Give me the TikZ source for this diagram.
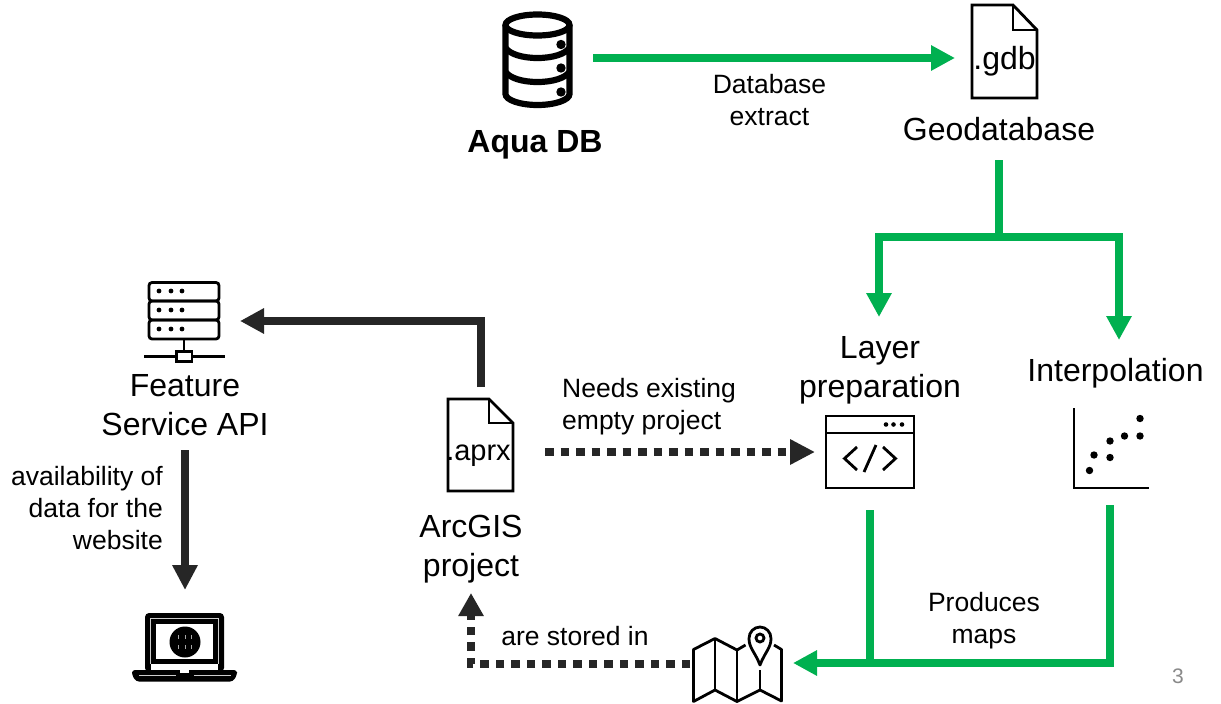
\documentclass[tikz,border=0pt]{standalone}
\usepackage{fontspec}
\setmainfont{Liberation Sans}
\usetikzlibrary{arrows.meta}
\definecolor{grn}{HTML}{00B050}
\definecolor{drk}{HTML}{262626}
\definecolor{pg}{HTML}{898989}
\tikzset{
  big/.style={font=\fontsize{32}{39}\selectfont,align=center,inner sep=0pt,text=black},
  small/.style={font=\fontsize{26.5}{32}\selectfont,align=center,inner sep=0pt,text=black},
  green line/.style={draw=grn,line width=7.5pt,line join=miter},
  dark line/.style={draw=drk,line width=8pt,line join=miter},
  dotted line/.style={draw=drk,line width=8.5pt,dash pattern=on 8.5pt off 7pt},
  gtip/.style={-{Triangle[length=24pt,width=24pt]}},
  icon/.style={draw=black,line width=2.8pt,line join=miter},
}
\begin{document}
\begin{tikzpicture}[x=1pt,y=-1pt]
\useasboundingbox (0,0) rectangle (1221,704);
\fill[white] (0,0) rectangle (1221,704);

% --- connector end points
\coordinate (dbout) at (593,58);
\coordinate (gdbin) at (955,58);
\coordinate (gdbout) at (999,160);
\coordinate (split) at (999,237);
\coordinate (layerin) at (879,317);
\coordinate (interpin) at (1119,340);
\coordinate (layerout) at (870,510);
\coordinate (interpout) at (1110,505);
\coordinate (mapjoin) at (870,663);
\coordinate (mapin) at (793,663);
\coordinate (mapout) at (690,664);
\coordinate (aprxin) at (471,593);
\coordinate (aprxout) at (481,387);
\coordinate (serverin) at (240,321);
\coordinate (apiout) at (185,450);
\coordinate (laptopin) at (185,590);
\coordinate (needsfrom) at (545,452);
\coordinate (needsto) at (815,452);

% --- database icon
\begin{scope}[draw=black,line width=6.2pt]
\draw (537.5,25) ellipse [x radius=32, y radius=10.5];
\draw (505.5,25) -- (505.5,94) .. controls (505.5,100) and (520,105) .. (537.5,105) .. controls (555,105) and (569.5,100) .. (569.5,94) -- (569.5,25);
\draw (505.5,48) .. controls (510,54) and (522,58) .. (537.5,58) .. controls (553,58) and (565,54) .. (569.5,48);
\draw (505.5,72) .. controls (510,78) and (522,82) .. (537.5,82) .. controls (553,82) and (565,78) .. (569.5,72);
\end{scope}
\fill[black] (561,44.5) circle (4.7) (561,68) circle (4.7) (561,92) circle (4.7);

% --- gdb file
\draw[icon] (972,5) -- (1013,5) -- (1037,30) -- (1037,98) -- (972,98) -- cycle;
\draw[icon] (1013,5) -- (1013,30) -- (1037,30);
\node[big,font=\fontsize{32}{36}\selectfont,anchor=base] (gdbtext) at (1004.5,69) {.gdb};

% --- server icon
\draw[icon,rounded corners=3pt] (149,282.5) rectangle (219,301);
\draw[icon,rounded corners=3pt] (149,301) rectangle (219,320);
\draw[icon,rounded corners=3pt] (149,320) rectangle (219,339);
\foreach \yy in {291,310,329} \foreach \xx in {159,171,182} \fill[black] (\xx,\yy) circle (2.4);
\draw[icon] (184,339) -- (184,351);
\draw[icon] (144,356.5) -- (176,356.5) (192,356.5) -- (225,356.5);
\draw[icon] (176.5,351.5) rectangle (192,361.5);

% --- laptop icon
\fill[black,rounded corners=4pt] (145,613) -- (224,613) -- (224,672) -- (145,672) -- cycle;
\draw[gray!40,line width=0.5pt] (150.5,664) -- (150.5,618.5) -- (218.5,618.5) -- (218.5,664);
\fill[white] (156,624) rectangle (213,659);
\fill[white] (151,664) rectangle (218,670);
\fill[black,rounded corners=3pt] (132,670) -- (237,670) -- (237,675) -- (233,681.5) -- (136,681.5) -- (132,675) -- cycle;
\fill[white] (180,670) rectangle (189,672.5);
\draw[gray!40,line width=0.5pt] (139,675.5) -- (176,675.5) (194,675.5) -- (231,675.5);
\fill[black] (185,642) circle (15.5);
\draw[gray!70,line width=0.7pt] (178.5,635) -- (178.5,639) (178.5,645) -- (178.5,649)
  (191.5,635) -- (191.5,639) (191.5,645) -- (191.5,649)
  (185,635) -- (185,639) (185,645) -- (185,649);

% --- aprx file
\draw[icon] (448,399) -- (489,399) -- (513,423) -- (513,491) -- (448,491) -- cycle;
\draw[icon] (489,399) -- (489,423) -- (513,423);
\node[big,font=\fontsize{29}{34}\selectfont,anchor=base] (aprxtext) at (478.5,460) {.aprx};

% --- code window icon
\draw[icon] (826,416) rectangle (914,488);
\draw[icon] (826,433) -- (914,433);
\fill[black] (886,424.5) circle (2.3) (893.5,424.5) circle (2.3) (902,424.5) circle (2.3);
\draw[icon] (857,447) -- (844.5,458.5) -- (857,470);
\draw[icon] (883,447) -- (895.5,458.5) -- (883,470);
\draw[icon] (876,445) -- (864,472);

% --- scatter icon
\draw[icon] (1074,408) -- (1074,488) -- (1149,488);
\foreach \xx/\yy in {1089.5/470.5,1094/455,1110/441,1110/457.5,1124.5/436,1140/436,1140/418.5}
  \fill[black] (\xx,\yy) circle (3.7);

% --- map icon
\draw[icon,line join=round] (745.5,645) -- (737,650) -- (715,638.5) -- (693.5,649.5) -- (693.5,701.5) -- (715,690) -- (737,701.5) -- (760,690) -- (781.5,701) -- (781.5,649.5) -- (774,645);
\draw[icon] (715,638.5) -- (715,690) (737,650) -- (737,701.5) (760,670) -- (760,690);
\draw[icon,line join=round] (760,665) .. controls (755,652) and (749,648) .. (749,638.5) .. controls (749,632) and (754,627) .. (760,627) .. controls (766,627) and (771,632) .. (771,638.5) .. controls (771,648) and (765,652) .. (760,665) -- cycle;
\draw[icon] (760,638) circle (4);

% --- connectors
\draw[green line,gtip] (dbout) -- (gdbin);
\draw[green line] (gdbout) -- (split);
\draw[green line,gtip] (split) -| (layerin);
\draw[green line,gtip] (split) -| (interpin);
\draw[green line] (layerout) -- (mapjoin);
\draw[green line,gtip] (interpout) |- (mapin);
\draw[dark line,-{Triangle[length=24pt,width=24pt]}] (aprxout) |- (serverin);
\draw[dark line,-{Triangle[length=25pt,width=24pt]}] (apiout) -- (laptopin);
\draw[dotted line,-{Triangle[length=25pt,width=24pt]}] (needsfrom) -- (needsto);
\draw[dotted line,-{Triangle[length=23pt,width=24pt]}] (mapout) -| (aprxin);

% --- labels
\node[big,font=\bfseries\fontsize{32}{39}\selectfont] (aqua) at (535,145) {Aqua DB};
\node[small] (extract) at (769.5,100) {Database\\extract};
\node[big] (geodb) at (999,129) {Geodatabase};
\node[big] (layer) at (880,370.5) {Layer\\preparation};
\node[big] (interp) at (1115.5,373) {Interpolation};
\node[big] (api) at (185,405) {Feature\\Service API};
\node[small,align=right,anchor=east] (avail) at (163,508) {availability of\\data for the\\website};
\node[big] (arcgis) at (471,549.5) {ArcGIS\\project};
\node[small,align=left,anchor=west] (needs) at (562,406.5) {Needs existing\\empty project};
\node[small] (stored) at (575,636) {are stored in};
\node[small] (produces) at (984,621) {Produces\\maps};
\node[inner sep=0pt,text=pg,font=\fontsize{21}{25}\selectfont] (pagenum) at (1178,676) {3};
\end{tikzpicture}
\end{document}
